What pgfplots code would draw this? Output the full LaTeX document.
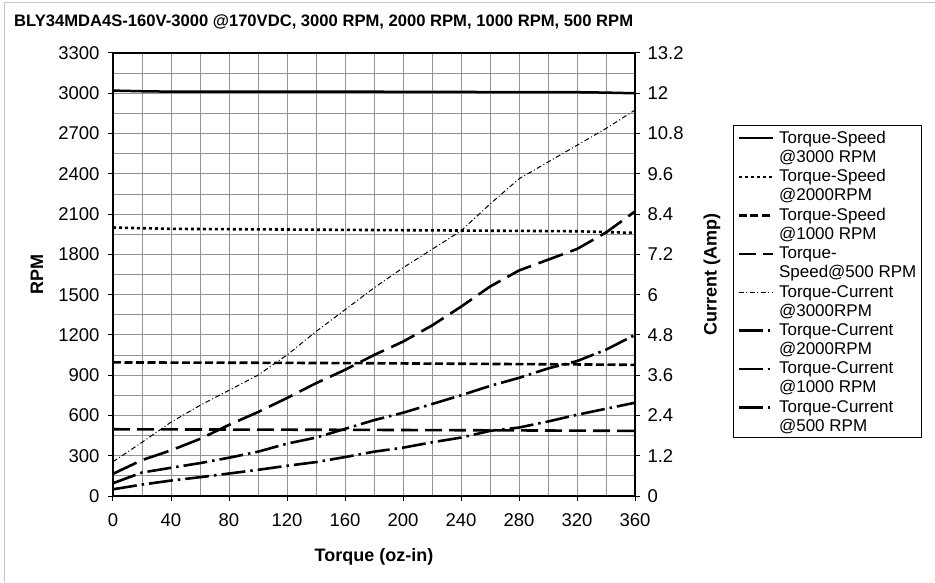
\documentclass[border=0pt]{standalone}
\usepackage{fontspec}
\setmainfont{Liberation Sans}
\usepackage{pgfplots}
\pgfplotsset{compat=1.18}

% line styles of the eight curves
\pgfplotsset{
  sA/.style={black, line width=2.5pt, solid},
  sB/.style={black, line width=2.6pt, dash pattern=on 3pt off 3pt},
  sC/.style={black, line width=2.6pt, dash pattern=on 8pt off 3.5pt},
  sD/.style={black, line width=2.6pt, dash pattern=on 17pt off 7pt},
  cA/.style={black, line width=1pt, dash pattern=on 5pt off 2.5pt on 1pt off 2.5pt},
  cB/.style={black, line width=2.6pt, dash pattern=on 26pt off 8pt},
  cC/.style={black, line width=2.6pt, dash pattern=on 24pt off 5pt on 2.5pt off 5pt},
  cD/.style={black, line width=2.6pt, dash pattern=on 24pt off 5pt on 2.5pt off 5pt},
  common/.style={
    at={(113pt,86pt)}, anchor=south west,
    scale only axis, width=522pt, height=443pt,
    xmin=0, xmax=360,
    tick align=outside,
    major tick length=5pt, minor tick length=0pt,
    tick style={black, line width=1pt},
    tick label style={font=\fontsize{18.5}{18.5}\selectfont},
    /pgf/number format/assume math mode=true,
    /pgf/number format/1000 sep={},
    label style={font=\bfseries\fontsize{18}{18}\selectfont},
  },
}

\begin{document}
\begin{tikzpicture}[x=1pt,y=1pt]
\useasboundingbox (0,0) rectangle (935,582);
\fill[white] (0,0) rectangle (935,582);
\draw[gray!45, line width=1pt] (4,0) -- (4,579) -- (935,579);
\node[anchor=base west, inner sep=0pt, font=\bfseries\fontsize{16.6}{18}\selectfont]
  at (14,555) {BLY34MDA4S-160V-3000 @170VDC, 3000 RPM, 2000 RPM, 1000 RPM, 500 RPM};

\begin{axis}[
  common,
  ymin=0, ymax=3300,
  xtick={0,40,...,360}, minor x tick num=1,
  ytick={0,300,...,3300}, minor y tick num=1,
  xtick pos=bottom, ytick pos=left,
  yticklabel style={xshift=-5pt},
  xticklabel style={yshift=-9pt},
  grid=both,
  major grid style={draw=gray!85, line width=0.9pt},
  minor grid style={draw=gray!85, line width=0.9pt},
  axis line style={black, line width=1.4pt},
  xlabel={Torque (oz-in)},
  ylabel={RPM},
  xlabel style={at={(axis description cs:0.5,-0.1377)}, anchor=center},
  ylabel style={at={(axis description cs:-0.1456,0.5)}, anchor=center},
]
\addplot[sA] coordinates {(0,3020) (20,3015) (40,3012) (80,3012) (160,3012) (240,3010) (280,3008) (320,3008) (340,3005) (360,3000)};
\addplot[sB] coordinates {(0,2000) (20,1995) (40,1990) (120,1985) (200,1980) (280,1975) (320,1972) (360,1960)};
\addplot[sC] coordinates {(0,995) (80,993) (160,990) (240,985) (320,980) (360,977)};
\addplot[sD] coordinates {(0,497) (80,495) (160,493) (240,490) (320,487) (360,485)};
\end{axis}

\begin{axis}[
  common,
  ymin=0, ymax=13.2,
  axis x line=none, axis y line*=right,
  axis line style={black, line width=1.4pt},
  ytick={0,1.2,2.4,3.6,4.8,6,7.2,8.4,9.6,10.8,12,13.2},
  yticklabels={0,1.2,2.4,3.6,4.8,6,7.2,8.4,9.6,10.8,12,13.2},
  yticklabel style={xshift=4pt},
  ylabel={Current (Amp)},
  ylabel style={at={(axis description cs:1.1475,0.5)}, anchor=center, rotate=0},
  legend style={
    at={(axis description cs:1.1877,0.837)}, anchor=north west,
    draw=black, line width=1pt, inner xsep=4pt, inner ysep=4pt,
    row sep=4pt, column sep=4pt,
    font=\fontsize{17}{19}\selectfont,
    nodes={align=left, inner sep=1pt},
    cells={anchor=base west},
  },
  legend image code/.code={\draw[#1] (0pt,24pt) -- (34pt,24pt);},
]
\addlegendimage{sA}\addlegendentry{Torque-Speed\\@3000 RPM}
\addlegendimage{sB}\addlegendentry{Torque-Speed\\@2000RPM}
\addlegendimage{sC}\addlegendentry{Torque-Speed\\@1000 RPM}
\addlegendimage{sD}\addlegendentry{Torque-\\Speed@500 RPM}
\addplot[cA] coordinates {(0,1.02) (20,1.6) (40,2.2) (60,2.7) (80,3.15) (100,3.6) (120,4.2) (140,4.9) (160,5.55) (180,6.2) (200,6.8) (220,7.35) (240,7.9) (260,8.7) (280,9.45) (300,9.95) (320,10.45) (340,10.95) (360,11.5)};
\addlegendentry{Torque-Current\\@3000RPM}
\addplot[cB, forget plot] coordinates {(0,0.66) (20,1.07) (40,1.36) (60,1.7) (80,2.12) (100,2.5) (120,2.92) (140,3.36) (160,3.76) (180,4.2) (200,4.6) (220,5.08) (240,5.64) (260,6.24) (280,6.72) (300,7.04) (320,7.36) (340,7.85) (360,8.48)};
\addlegendimage{cC}\addlegendentry{Torque-Current\\@2000RPM}
\addplot[cC] coordinates {(0,0.38) (20,0.7) (40,0.84) (60,0.98) (80,1.14) (100,1.32) (120,1.56) (140,1.74) (160,2.0) (180,2.26) (200,2.48) (220,2.74) (240,3.0) (260,3.28) (280,3.52) (300,3.8) (320,4.02) (340,4.36) (360,4.8)};
\addlegendentry{Torque-Current\\@1000 RPM}
\addplot[cD] coordinates {(0,0.2) (20,0.34) (40,0.46) (60,0.56) (80,0.67) (100,0.78) (120,0.9) (140,1.01) (160,1.16) (180,1.32) (200,1.44) (220,1.6) (240,1.74) (260,1.94) (280,2.04) (300,2.22) (320,2.42) (340,2.6) (360,2.78)};
\addlegendentry{Torque-Current\\@500 RPM}
\end{axis}
\end{tikzpicture}
\end{document}
